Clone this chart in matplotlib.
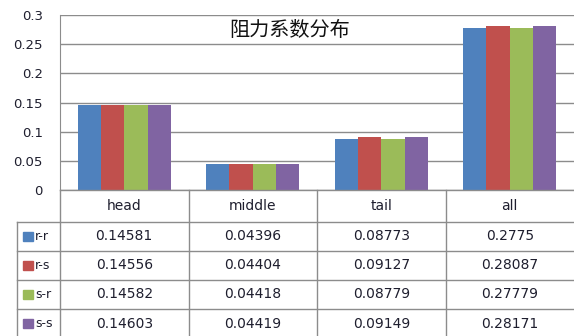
import matplotlib.pyplot as plt
import numpy as np
from matplotlib.patches import Rectangle

plt.rcParams['font.family'] = ['DejaVu Sans', 'Noto Sans CJK SC']

# data
categories = ["head", "middle", "tail", "all"]
series_names = ["r-r", "r-s", "s-r", "s-s"]
rr = [0.14581, 0.04396, 0.08773, 0.2775]
rs = [0.14556, 0.04404, 0.09127, 0.28087]
sr = [0.14582, 0.04418, 0.08779, 0.27779]
ss = [0.14603, 0.04419, 0.09149, 0.28171]
value_text = [
    ["0.14581", "0.04396", "0.08773", "0.2775"],
    ["0.14556", "0.04404", "0.09127", "0.28087"],
    ["0.14582", "0.04418", "0.08779", "0.27779"],
    ["0.14603", "0.04419", "0.09149", "0.28171"],
]
title = "阻力系数分布"

colors = ["#4F81BD", "#C0504D", "#9BBB59", "#8064A2"]
grid_c = "#8C8C8C"
text_c = "#1E1E2E"

W, H = 574, 336
fig = plt.figure(figsize=(W / 100, H / 100), dpi=100)

# bar area, pixel box: left 60, top 15, right 574, bottom 190
ax = fig.add_axes([60 / W, (H - 190) / H, (W - 60) / W, 175 / H])
x = np.arange(len(categories))
bw = 0.181
for i, vals in enumerate([rr, rs, sr, ss]):
    ax.bar(x + (i - 1.5) * bw, vals, bw, color=colors[i], zorder=3)

ax.set_xlim(-0.5, len(categories) - 0.5)
ax.set_ylim(0, 0.3)
ax.set_yticks(np.arange(0, 0.301, 0.05))
ax.set_yticklabels(["0", "0.05", "0.1", "0.15", "0.2", "0.25", "0.3"])
ax.tick_params(axis='y', length=0, pad=12.5, labelsize=9.5, colors=text_c)
ax.set_xticks([])
ax.grid(axis='y', color=grid_c, linewidth=1, zorder=0)
for s in ["top", "right", "bottom"]:
    ax.spines[s].set_visible(False)
ax.spines["left"].set_color(grid_c)
ax.text(0.447, 0.91, title, transform=ax.transAxes, ha='center', va='center',
        fontsize=14.5, color="#111111", family=['Noto Sans CJK SC'])

# data table under the bars, pixel rows 190..336 from the top
tab = fig.add_axes([60 / W, 0, (W - 60) / W, (H - 190) / H])
tab.set_xlim(-0.5, len(categories) - 0.5)
tab.set_ylim(H - 190, 0)
tab.axis('off')
lk = dict(color=grid_c, linewidth=1, clip_on=False)

rows = [0, 32, 60.5, 90, 119, 148.5]
# one pixel in x data units, for the legend column
px = (len(categories)) / (W - 60)
leg_left = -0.5 - 43 * px

tab.plot([-0.5, len(categories) - 0.5], [rows[0]] * 2, **lk)
for r in rows[1:]:
    tab.plot([leg_left, len(categories) - 0.5], [r] * 2, **lk)
# column separators (the outer right edge sits at the figure border)
for b in np.arange(len(categories)) - 0.5:
    tab.plot([b, b], [rows[0], rows[-1]], **lk)
tab.plot([leg_left, leg_left], [rows[1], rows[-1]], **lk)

for j, c in enumerate(categories):
    tab.text(j, (rows[0] + rows[1]) / 2, c, ha='center', va='center',
             fontsize=10, color=text_c)

for i, name in enumerate(series_names):
    yc = (rows[i + 1] + rows[i + 2]) / 2
    tab.add_patch(Rectangle((leg_left + 6 * px, yc - 4.5), 10 * px, 9,
                            color=colors[i], clip_on=False))
    tab.text(leg_left + 18 * px, yc, name, ha='left', va='center',
             fontsize=9, color=text_c, clip_on=False)
    for j in range(len(categories)):
        tab.text(j, yc, value_text[i][j], ha='center', va='center',
                 fontsize=10, color=text_c)

fig.savefig("out.png", dpi=100)
